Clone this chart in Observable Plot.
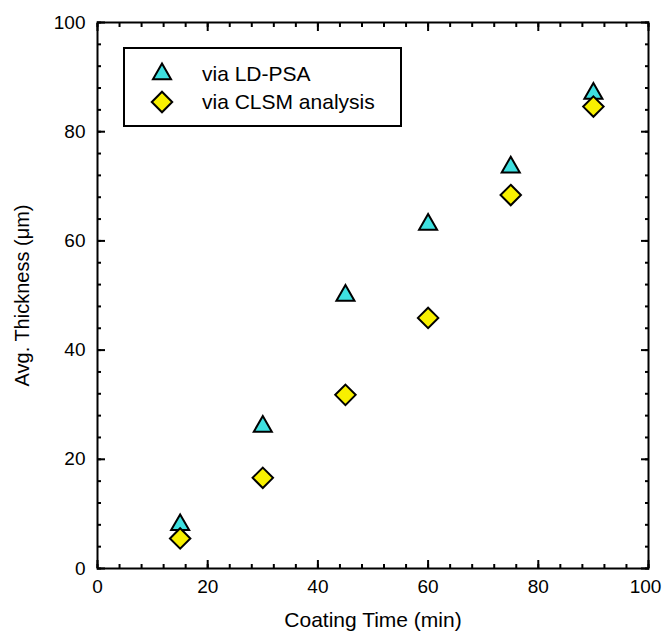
<!DOCTYPE html>
<html><head><meta charset="utf-8">
<script src="https://cdn.jsdelivr.net/npm/d3@7"></script>
<script src="https://cdn.jsdelivr.net/npm/@observablehq/plot@0.6"></script>
<style>
body{margin:0;background:#fff;overflow:hidden;}
#wrap{position:relative;width:662px;height:632px;font-family:Arial,"Liberation Sans",sans-serif;}
#legend{position:absolute;left:123px;top:47px;}
</style></head><body><div id="wrap"></div>
<script>
const coatingTime = [15, 30, 45, 60, 75, 90];
const ldpsa = [8, 26, 50, 63, 73.5, 87];
const clsm = [5.5, 16.6, 31.8, 45.9, 68.4, 84.6];
const seriesNames = ["via LD-PSA", "via CLSM analysis"];
const xTicks = [0, 20, 40, 60, 80, 100];
const yTicks = [0, 20, 40, 60, 80, 100];
const minorTicks = d3.range(0, 101, 4);

const cyan = "#3ee0e0", yellow = "#f8f000";
const dataA = coatingTime.map((t, i) => ({t, v: ldpsa[i]}));
const dataB = coatingTime.map((t, i) => ({t, v: clsm[i]}));
const font = "Arial, 'Liberation Sans', sans-serif";
const noText = () => "";

const plot = Plot.plot({
  width: 662, height: 632,
  marginLeft: 97, marginRight: 14, marginTop: 22, marginBottom: 64,
  style: {fontFamily: font, fontSize: "19px", color: "#000", background: "#fff"},
  x: {domain: [0, 100]},
  y: {domain: [0, 100]},
  marks: [
    Plot.axisX(xTicks.slice(0, -1), {anchor: "bottom", tickSize: 0, tickPadding: 11, label: null, fontSize: 19}),
    Plot.axisX(xTicks.slice(-1), {anchor: "bottom", tickSize: 0, tickPadding: 11, dx: -3, label: null, fontSize: 19}),
    Plot.axisX([], {anchor: "bottom", tickSize: 0, label: "Coating Time (min)", labelAnchor: "center", labelArrow: "none", labelOffset: 58, fontSize: 21}),
    Plot.axisY(yTicks, {anchor: "left", tickSize: 0, tickPadding: 12, label: null, fontSize: 19}),
    Plot.axisY([], {anchor: "left", tickSize: 0, label: "Avg. Thickness (\u03bcm)", labelAnchor: "center", labelArrow: "none", labelOffset: 83, fontSize: 20}),
    Plot.axisX(minorTicks, {anchor: "bottom", tickSize: -4, strokeWidth: 2, tickFormat: noText, label: null}),
    Plot.axisX(xTicks, {anchor: "bottom", tickSize: -8, strokeWidth: 2, tickFormat: noText, label: null}),
    Plot.axisX(minorTicks, {anchor: "top", tickSize: -4, strokeWidth: 2, tickFormat: noText, label: null}),
    Plot.axisX(xTicks, {anchor: "top", tickSize: -8, strokeWidth: 2, tickFormat: noText, label: null}),
    Plot.axisY(minorTicks, {anchor: "left", tickSize: -4, strokeWidth: 2, tickFormat: noText, label: null}),
    Plot.axisY(yTicks, {anchor: "left", tickSize: -8, strokeWidth: 2, tickFormat: noText, label: null}),
    Plot.axisY(minorTicks, {anchor: "right", tickSize: -4, strokeWidth: 2, tickFormat: noText, label: null}),
    Plot.axisY(yTicks, {anchor: "right", tickSize: -8, strokeWidth: 2, tickFormat: noText, label: null}),
    Plot.frame({stroke: "#000", strokeWidth: 2}),
    Plot.dot(dataA, {x: "t", y: "v", symbol: "triangle", r: 6.7, fill: cyan, stroke: "#000", strokeWidth: 2}),
    Plot.dot(dataB, {x: "t", y: "v", symbol: "diamond2", r: 9.2, fill: yellow, stroke: "#000", strokeWidth: 2})
  ]
});

const wrap = document.getElementById("wrap");
wrap.appendChild(plot);

// legend overlay
const lw = 279, lh = 80;
const leg = d3.create("svg").attr("width", lw).attr("height", lh).attr("id", "legend")
  .style("font-family", font);
leg.append("rect").attr("x", 1).attr("y", 1).attr("width", lw - 2).attr("height", lh - 2)
  .attr("fill", "#fff").attr("stroke", "#000").attr("stroke-width", 2);
const sizeA = Math.PI * 6.7 * 6.7, sizeB = Math.PI * 9.2 * 9.2;
const items = [
  {name: seriesNames[0], sym: d3.symbolTriangle, size: sizeA, fill: cyan, y: 27},
  {name: seriesNames[1], sym: d3.symbolDiamond2, size: sizeB, fill: yellow, y: 55}
];
for (const it of items) {
  leg.append("path").attr("d", d3.symbol(it.sym, it.size)())
    .attr("transform", `translate(39,${it.y})`)
    .attr("fill", it.fill).attr("stroke", "#000").attr("stroke-width", 2);
  leg.append("text").attr("x", 79).attr("y", it.y).attr("dy", "0.35em")
    .attr("font-size", 21).text(it.name);
}
wrap.appendChild(leg.node());
</script>
</body></html>
